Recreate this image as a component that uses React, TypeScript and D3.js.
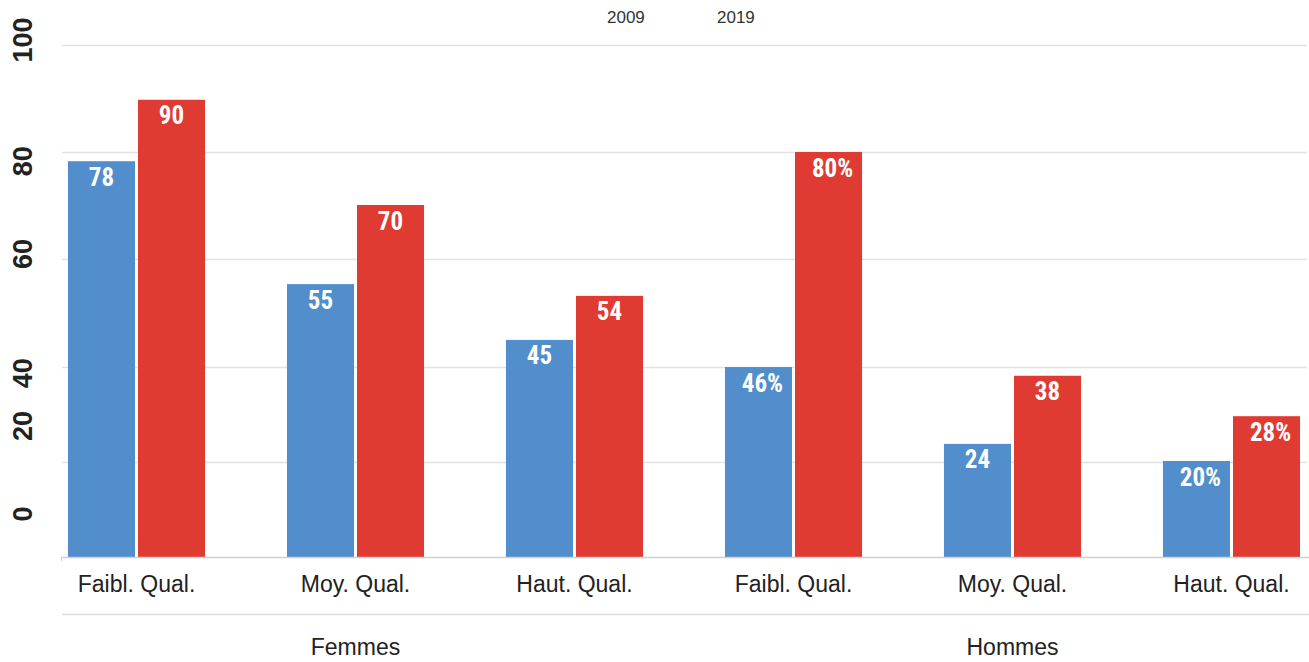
// @ts-nocheck
import React, { useEffect, useRef } from "react";
import * as d3 from "d3";

// categories, two groups of three
const categories = ["F-Faibl", "F-Moy", "F-Haut", "H-Faibl", "H-Moy", "H-Haut"];
const categoryLabels = ["Faibl. Qual.", "Moy. Qual.", "Haut. Qual.", "Faibl. Qual.", "Moy. Qual.", "Haut. Qual."];
const groups = ["Femmes", "Hommes"];
const groupOf = [0, 0, 0, 1, 1, 1];

const series = ["2009", "2019"];
const colors = ["#518ecb", "#e03b33"];

// bar heights
const values2009 = [77.3, 53.3, 42.4, 37.1, 22.1, 18.75];
const values2019 = [89.3, 68.75, 51.0, 79.1, 35.4, 27.5];
// labels printed in the bars
const labels2009 = ["78", "55", "45", "46%", "24", "20%"];
const labels2019 = ["90", "70", "54", "80%", "38", "28%"];

// axis text and where it sits (in axis units)
const tickLabels = ["0", "20", "40", "60", "80", "100"];
const tickAt = [8.4, 25.6, 35.9, 59.2, 77.3, 101];
const gridValues = [0, 18.6, 37.1, 58.2, 79.1, 100];

function App() {
  const ref = useRef(null);

  useEffect(() => {
    const width = 1309,
      height = 662;
    const svg = d3.select(ref.current);
    svg.selectAll("*").remove();

    const y = d3.scaleLinear().domain([0, 100]).range([557, 45]);
    const x = d3
      .scaleBand()
      .domain(categories)
      .range([27, 27 + 6 * 219])
      .paddingInner(0.374)
      .paddingOuter(0.187);
    const xs = d3.scaleBand().domain(series).range([0, x.bandwidth()]).paddingInner(0.043);
    const color = d3.scaleOrdinal().domain(series).range(colors);

    const left = 62;

    // gridlines
    svg
      .append("g")
      .selectAll("line")
      .data(gridValues.slice(1))
      .enter()
      .append("line")
      .attr("x1", left)
      .attr("x2", 1307)
      .attr("y1", (d) => Math.round(y(d)) + 0.5)
      .attr("y2", (d) => Math.round(y(d)) + 0.5)
      .attr("stroke", "#e2e2e2")
      .attr("stroke-width", 1.5);

    // y labels
    svg
      .append("g")
      .selectAll("text")
      .data(tickLabels)
      .enter()
      .append("text")
      .attr("transform", (d, i) => `translate(32,${y(tickAt[i])}) rotate(-90)`)
      .attr("text-anchor", "middle")
      .style("font-family", "'Liberation Sans Narrow', 'Liberation Sans', Arial, sans-serif")
      .style("font-weight", "bold")
      .style("font-size", "27px")
      .attr("fill", "#222")
      .text((d) => d);

    // bars
    const rows = categories.map((c, i) => ({
      cat: c,
      vals: [
        { s: series[0], v: values2009[i], label: labels2009[i] },
        { s: series[1], v: values2019[i], label: labels2019[i] },
      ],
    }));

    const g = svg
      .append("g")
      .selectAll("g")
      .data(rows)
      .enter()
      .append("g")
      .attr("transform", (d) => `translate(${x(d.cat)},0)`);

    g.selectAll("rect")
      .data((d) => d.vals)
      .enter()
      .append("rect")
      .attr("x", (d) => xs(d.s))
      .attr("width", xs.bandwidth())
      .attr("y", (d) => y(d.v))
      .attr("height", (d) => y(0) - y(d.v))
      .attr("fill", (d) => color(d.s));

    g.selectAll("text")
      .data((d) => d.vals)
      .enter()
      .append("text")
      .attr("x", (d) => xs(d.s) + xs.bandwidth() / 2 + (d.label.includes("%") ? 4 : 0))
      .attr("y", (d) => y(d.v) + 24.5)
      .attr("text-anchor", "middle")
      .style("font-family", "'Liberation Sans Narrow', 'Roboto Condensed', Roboto, sans-serif")
      .style("font-weight", "bold")
      .style("font-size", "25px")
      .attr("fill", "#fff")
      .text((d) => d.label);

    // baseline and group separator
    svg
      .append("line")
      .attr("x1", left)
      .attr("x2", width)
      .attr("y1", 557.5)
      .attr("y2", 557.5)
      .attr("stroke", "#d0d0d0")
      .attr("stroke-width", 1.5);
    svg
      .append("line")
      .attr("x1", left - 0.5)
      .attr("x2", left - 0.5)
      .attr("y1", 557)
      .attr("y2", 561)
      .attr("stroke", "#d0d0d0");
    svg
      .append("line")
      .attr("x1", left)
      .attr("x2", width)
      .attr("y1", 614.5)
      .attr("y2", 614.5)
      .attr("stroke", "#dcdcdc")
      .attr("stroke-width", 1.5);

    // category labels
    svg
      .append("g")
      .selectAll("text")
      .data(categories)
      .enter()
      .append("text")
      .attr("x", (d) => x(d) + x.bandwidth() / 2)
      .attr("y", 592)
      .attr("text-anchor", "middle")
      .style("font-family", "'Liberation Sans', Arial, sans-serif")
      .style("font-size", "23px")
      .attr("fill", "#222")
      .text((d, i) => categoryLabels[i]);

    // group labels
    svg
      .append("g")
      .selectAll("text")
      .data(groups)
      .enter()
      .append("text")
      .attr("x", (d, gi) => {
        const cs = categories.filter((c, i) => groupOf[i] === gi);
        return (x(cs[0]) + x(cs[cs.length - 1]) + x.bandwidth()) / 2;
      })
      .attr("y", 655)
      .attr("text-anchor", "middle")
      .style("font-family", "'Liberation Sans', Arial, sans-serif")
      .style("font-size", "23px")
      .attr("fill", "#222")
      .text((d) => d);

    // legend (text only)
    svg
      .append("g")
      .selectAll("text")
      .data(series)
      .enter()
      .append("text")
      .attr("x", (d, i) => 607 + i * 110)
      .attr("y", 23)
      .style("font-family", "'Liberation Sans', Arial, sans-serif")
      .style("font-size", "17px")
      .attr("fill", "#333")
      .text((d) => d);
  }, []);

  return (
    <svg
      ref={ref}
      width={1309}
      height={662}
      style={{ position: "absolute", left: 0, top: 0, background: "#fff" }}
    />
  );
}

export default App;
